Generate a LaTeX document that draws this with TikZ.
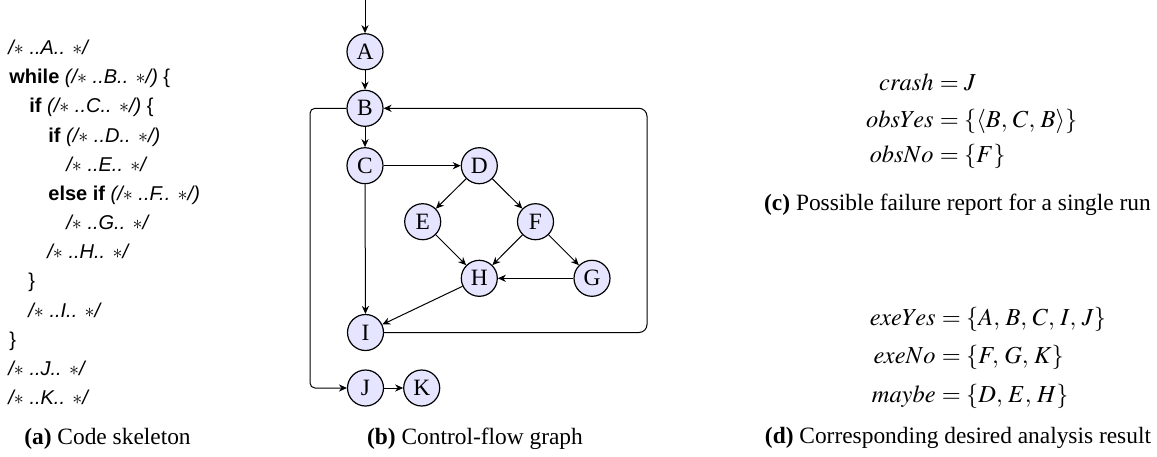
\documentclass[tikz,border=0pt]{standalone}
\usepackage{mathptmx}
\usepackage{fontspec}
\setmainfont{Liberation Serif}
\newfontfamily\codefont{Liberation Sans}
\usetikzlibrary{arrows.meta}
\begin{document}
\begin{tikzpicture}[x=0.5pt,y=-0.5pt]
\tikzset{
 vtx/.style={circle, draw, line width=0.6pt, fill=blue!10, minimum size=18pt, inner sep=0pt, font=\fontsize{11.7}{14}\selectfont},
 edge/.style={line width=0.5pt, -{Stealth[length=4pt,width=3.6pt,inset=1.3pt]}},
 code/.style={anchor=base west, inner sep=0pt, font=\codefont\fontsize{10}{12}\selectfont},
 captxt/.style={anchor=base, inner sep=0pt, font=\fontsize{11.7}{14}\selectfont},
 mth/.style={inner sep=0pt, font=\fontsize{12.2}{14}\selectfont},
}
\useasboundingbox (0,0) rectangle (1157,456);

% code skeleton
\node[code] (c0)  at (8,54.5)   {\textit{/$\ast$ ..A.. $\ast$/}};
\node[code] (c1)  at (9,83.7)   {\textbf{while} \textit{(/$\ast$ ..B.. $\ast$/)} \{};
\node[code] (c2)  at (29,112.8) {\textbf{if} \textit{(/$\ast$ ..C.. $\ast$/)} \{};
\node[code] (c3)  at (48,142)   {\textbf{if} \textit{(/$\ast$ ..D.. $\ast$/)}};
\node[code] (c4)  at (66,171.2) {\textit{/$\ast$ ..E.. $\ast$/}};
\node[code] (c5)  at (48,200.3) {\textbf{else if} \textit{(/$\ast$ ..F.. $\ast$/)}};
\node[code] (c6)  at (66,229.5) {\textit{/$\ast$ ..G.. $\ast$/}};
\node[code] (c7)  at (47,258.7) {\textit{/$\ast$ ..H.. $\ast$/}};
\node[code] (c8)  at (28,287.8) {\}};
\node[code] (c9)  at (28,317)   {\textit{/$\ast$ ..I.. $\ast$/}};
\node[code] (c10) at (9,346.2)  {\}};
\node[code] (c11) at (8,375.3)  {\textit{/$\ast$ ..J.. $\ast$/}};
\node[code] (c12) at (8,404.5)  {\textit{/$\ast$ ..K.. $\ast$/}};

% graph
\node[vtx] (A) at (365,51.7)  {A};
\node[vtx] (B) at (365,108.3) {B};
\node[vtx] (C) at (365,165.7) {C};
\node[vtx] (D) at (479.3,165.7) {D};
\node[vtx] (E) at (422.7,221.7) {E};
\node[vtx] (F) at (535.5,221.7) {F};
\node[vtx] (H) at (479.3,278.3) {H};
\node[vtx] (G) at (592,278.3) {G};
\node[vtx] (I) at (365.5,332.5) {I};
\node[vtx] (J) at (365.5,388) {J};
\node[vtx] (K) at (421.7,388) {K};
\coordinate (top) at (365,0);
\coordinate (lx) at (310,0);
\coordinate (rx) at (647,0);

\draw[edge] (top) -- (A);
\draw[edge] (A) -- (B);
\draw[edge] (B) -- (C);
\draw[edge] (C) -- (D);
\draw[edge] (C) -- (I);
\draw[edge] (D) -- (E);
\draw[edge] (D) -- (F);
\draw[edge] (E) -- (H);
\draw[edge] (F) -- (H);
\draw[edge] (F) -- (G);
\draw[edge] (G) -- (H);
\draw[edge] (H) -- (I);
\draw[edge] (J) -- (K);
\draw[edge, rounded corners=4pt] (I.east) -- (I.east -| rx) -- (B.east -| rx) -- (B.east);
\draw[edge, rounded corners=2.5pt] (B.west) -- (B.west -| lx) -- (J.west -| lx) -- (J.west);

% failure report
\node[mth, anchor=base east] (crL) at (934,90)  {$crash$};
\node[mth, anchor=base west] (crR) at (934,90)  {${}= J$};
\node[mth, anchor=base east] (oyL) at (934,127) {$obsYes$};
\node[mth, anchor=base west] (oyR) at (934,127) {${}= \{\langle B,\, C,\, B\rangle\}$};
\node[mth, anchor=base east] (onL) at (934,162) {$obsNo$};
\node[mth, anchor=base west] (onR) at (934,162) {${}= \{F\}$};

% analysis result
\node[mth, anchor=base east] (eyL) at (936,325) {$exeYes$};
\node[mth, anchor=base west] (eyR) at (936,325) {${}= \{A,\, B,\, C,\, I,\, J\}$};
\node[mth, anchor=base east] (enL) at (936,363) {$exeNo$};
\node[mth, anchor=base west] (enR) at (936,363) {${}= \{F,\, G,\, K\}$};
\node[mth, anchor=base east] (mbL) at (936,402) {$maybe$};
\node[mth, anchor=base west] (mbR) at (936,402) {${}= \{D,\, E,\, H\}$};

% captions
\node[captxt] (capa) at (107.5,444) {\textbf{(a)} Code skeleton};
\node[captxt] (capb) at (475,444)   {\textbf{(b)} Control-flow graph};
\node[captxt] (capc) at (957.5,210) {\textbf{(c)} Possible failure report for a single run};
\node[captxt] (capd) at (958,443)   {\textbf{(d)} Corresponding desired analysis result};
\end{tikzpicture}
\end{document}
